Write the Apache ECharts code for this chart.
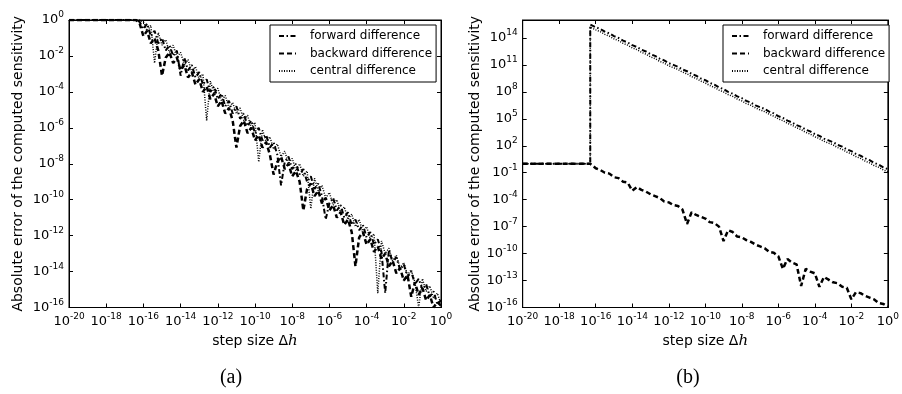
<!DOCTYPE html>
<html>
<head>
<meta charset="utf-8">
<script src="https://cdn.jsdelivr.net/npm/echarts@6/dist/echarts.min.js"></script>
<style>
  html, body { margin: 0; padding: 0; background: #fff; }
  #chart { width: 902px; height: 394px; }
</style>
</head>
<body>
<div id="chart"></div>
<script>
// all values are log10 exponents
const legendNames = ["forward difference", "backward difference", "central difference"];

// (a) step sizes and errors
const xA = [-20, -16.4, -16.2, -16.0, -15.8, -15.6, -15.4, -15.2, -15.0, -14.8, -14.6, -14.4, -14.2, -14.0,
  -13.8, -13.6, -13.4, -13.2, -13.0, -12.8, -12.6, -12.4, -12.2, -12.0, -11.8, -11.6, -11.4, -11.2, -11.0,
  -10.8, -10.6, -10.4, -10.2, -10.0, -9.8, -9.6, -9.4, -9.2, -9.0, -8.8, -8.6, -8.4, -8.2, -8.0,
  -7.8, -7.6, -7.4, -7.2, -7.0, -6.8, -6.6, -6.4, -6.2, -6.0, -5.8, -5.6, -5.4, -5.2, -5.0,
  -4.8, -4.6, -4.4, -4.2, -4.0, -3.8, -3.6, -3.4, -3.2, -3.0, -2.8, -2.6, -2.4, -2.2, -2.0,
  -1.8, -1.6, -1.4, -1.2, -1.0, -0.8, -0.6, -0.4, -0.2, 0.0];
const fwdA = [0, 0, -0.1, -0.5, -0.2, -0.9, -0.6, -1.3, -1.0, -1.7, -1.4, -2.0, -1.7, -3.1,
  -2.1, -2.8, -2.5, -3.2, -2.9, -3.6, -3.3, -4.0, -3.7, -4.4, -4.1, -4.8, -4.5, -5.2, -4.8,
  -5.5, -5.2, -5.9, -5.6, -6.3, -6.0, -6.7, -6.4, -7.1, -6.8, -7.5, -9.2, -7.9, -7.6, -8.3,
  -8.0, -8.6, -8.3, -9.0, -8.7, -9.4, -9.1, -9.8, -11.1, -10.2, -9.9, -10.6, -10.3, -11.0, -10.7,
  -11.4, -11.1, -11.7, -11.4, -12.1, -11.8, -12.5, -12.2, -12.9, -15.2, -12.8, -13.5, -13.2, -13.9, -13.6,
  -14.3, -14.0, -14.7, -14.4, -15.0, -14.7, -15.4, -15.1, -15.8, -15.6];
const bwdA = [0, 0, -0.2, -0.9, -0.6, -1.3, -1.0, -1.7, -3.1, -2.1, -1.8, -2.4, -2.1, -2.8,
  -2.5, -3.2, -2.9, -3.6, -3.3, -4.0, -3.7, -4.4, -4.1, -4.8, -4.5, -5.2, -4.9, -5.6, -7.1,
  -5.9, -5.6, -6.3, -6.0, -6.7, -6.4, -7.1, -6.8, -7.5, -8.6, -7.9, -7.6, -8.3, -8.0, -8.7,
  -8.4, -9.0, -10.6, -9.4, -9.1, -9.8, -9.5, -10.2, -9.9, -10.6, -10.3, -11.0, -10.7, -11.4, -11.1,
  -11.8, -13.7, -12.1, -11.8, -12.5, -12.2, -12.9, -12.6, -13.3, -13.0, -13.7, -13.4, -14.1, -13.8, -14.5,
  -14.2, -15.4, -14.6, -15.3, -14.9, -15.6, -15.3, -16.0, -15.7, -15.9];
const cenA = [0, 0, 0, -0.1, -0.6, -0.3, -2.4, -0.7, -1.4, -1.1, -1.8, -1.4, -2.1, -1.8,
  -2.5, -2.2, -2.9, -2.6, -3.3, -3.0, -5.6, -3.4, -4.1, -3.8, -4.5, -4.2, -4.9, -4.6, -5.2,
  -4.9, -5.6, -5.3, -6.0, -5.7, -7.9, -6.1, -6.8, -6.5, -7.2, -6.9, -7.6, -7.3, -8.0, -7.7,
  -8.4, -8.0, -8.7, -8.4, -10.5, -8.8, -9.5, -9.2, -9.9, -9.6, -10.3, -10.0, -10.7, -10.4, -11.1,
  -10.8, -11.5, -11.1, -11.8, -11.5, -12.2, -11.9, -15.2, -12.3, -13.0, -12.7, -13.4, -13.1, -13.8, -13.5,
  -14.2, -13.9, -14.6, -16.0, -14.4, -15.1, -14.8, -15.5, -15.2, -15.8];

// (b) step sizes and errors
const xB = [-20, -16.3, -16.3, -16.0, -15.75, -15.5, -15.25, -15.0, -14.75, -14.5, -14.25, -14.0,
  -13.75, -13.5, -13.25, -13.0, -12.75, -12.5, -12.25, -12.0, -11.75, -11.5, -11.25, -11.0,
  -10.75, -10.5, -10.25, -10.0, -9.75, -9.5, -9.25, -9.0, -8.75, -8.5, -8.25, -8.0,
  -7.75, -7.5, -7.25, -7.0, -6.75, -6.5, -6.25, -6.0, -5.75, -5.5, -5.25, -5.0,
  -4.75, -4.5, -4.25, -4.0, -3.75, -3.5, -3.25, -3.0, -2.75, -2.5, -2.25, -2.0,
  -1.75, -1.5, -1.25, -1.0, -0.75, -0.5, -0.25, 0.0];
const fwdB = [0, 0, 15.5, 15.2, 15.0, 14.7, 14.5, 14.2, 14.0, 13.7, 13.5, 13.2,
  13.0, 12.7, 12.5, 12.2, 12.0, 11.7, 11.5, 11.2, 11.0, 10.8, 10.5, 10.3,
  10.0, 9.8, 9.5, 9.3, 9.0, 8.8, 8.5, 8.3, 8.0, 7.8, 7.5, 7.3,
  7.0, 6.8, 6.5, 6.3, 6.1, 5.8, 5.6, 5.3, 5.1, 4.8, 4.6, 4.3,
  4.1, 3.8, 3.6, 3.3, 3.1, 2.8, 2.6, 2.4, 2.1, 1.9, 1.6, 1.4,
  1.1, 0.9, 0.6, 0.4, 0.1, -0.1, -0.4, -0.6];
const bwdB = [0, 0, 0, -0.5, -0.7, -1.0, -1.1, -1.5, -1.6, -2.0, -2.1, -3.0,
  -2.6, -2.9, -3.1, -3.4, -3.6, -3.8, -4.2, -4.3, -4.6, -4.7, -5.1, -6.7,
  -5.4, -5.7, -5.9, -6.1, -6.5, -6.6, -7.0, -8.6, -7.4, -7.6, -8.1, -8.2,
  -8.5, -8.7, -9.0, -9.2, -9.4, -9.8, -9.9, -10.3, -11.7, -10.6, -11.0, -11.2,
  -13.6, -11.7, -12.0, -12.2, -13.7, -12.6, -12.9, -13.2, -13.3, -13.7, -13.8, -15.1,
  -14.3, -14.4, -14.7, -14.9, -15.1, -15.5, -15.6, -15.9];
const cenB = [0, 0, 15.2, 14.9, 14.7, 14.4, 14.2, 13.9, 13.7, 13.4, 13.2, 12.9,
  12.7, 12.4, 12.2, 11.9, 11.7, 11.4, 11.2, 10.9, 10.7, 10.5, 10.2, 10.0,
  9.7, 9.5, 9.2, 9.0, 8.7, 8.5, 8.2, 8.0, 7.7, 7.5, 7.2, 7.0,
  6.7, 6.5, 6.2, 6.0, 5.8, 5.5, 5.3, 5.0, 4.8, 4.5, 4.3, 4.0,
  3.8, 3.5, 3.3, 3.0, 2.8, 2.5, 2.3, 2.1, 1.8, 1.6, 1.3, 1.1,
  0.8, 0.6, 0.3, 0.1, -0.2, -0.4, -0.7, -0.9];

const FONT = "DejaVu Sans";
const powLabel = (v) => `{b|10}{s|${v}}`;
const tickRich = {
  b: { fontFamily: FONT, fontSize: 13, color: "#000" },
  s: { fontFamily: FONT, fontSize: 9, color: "#000", padding: [0, 0, 10, 0] },
};

function mainX(gridIndex) {
  return {
    type: "value", gridIndex, min: -20, max: 0, interval: 2,
    name: "{n|step size Δ}{i|h}", nameLocation: "middle", nameGap: 21,
    nameTextStyle: { rich: {
      n: { fontFamily: FONT, fontSize: 14, color: "#000" },
      i: { fontFamily: "DejaVu Serif", fontStyle: "italic", fontSize: 15, color: "#000" },
    } },
    axisLine: { onZero: false, lineStyle: { color: "#000", width: 1 } },
    axisTick: { inside: true, length: 4, lineStyle: { color: "#000" } },
    axisLabel: { margin: 5, formatter: powLabel, rich: tickRich },
    splitLine: { show: false },
  };
}

function mainY(gridIndex, min, max, interval, gap) {
  return {
    type: "value", gridIndex, min, max, interval,
    name: "Absolute error of the computed sensitivity", nameLocation: "middle", nameGap: gap,
    nameTextStyle: { fontFamily: FONT, fontSize: 14, color: "#000" },
    axisLine: { onZero: false, lineStyle: { color: "#000", width: 1 } },
    axisTick: { inside: true, length: 4, lineStyle: { color: "#000" } },
    axisLabel: { margin: 5, formatter: (v) => (v === 16 ? "" : powLabel(v)), rich: tickRich },
    splitLine: { show: false },
  };
}

function mirror(gridIndex, position, min, max, interval) {
  return {
    type: "value", gridIndex, position, min, max, interval,
    axisLine: { show: true, onZero: false, lineStyle: { color: "#000", width: 1 } },
    axisTick: { inside: true, length: 4, lineStyle: { color: "#000" } },
    axisLabel: { show: false },
    splitLine: { show: false },
  };
}

const styles = [
  { type: [5, 2.5, 1.5, 2.5], width: 2, color: "#000" },
  { type: [5, 3], width: 2.5, color: "#000" },
  { type: [1, 1.5], width: 1.5, color: "#000" },
];

function makeSeries(xs, ys, k, axisIndex) {
  return {
    type: "line", name: legendNames[k], xAxisIndex: axisIndex, yAxisIndex: axisIndex,
    data: xs.map((x, i) => [x, ys[i]]),
    symbol: "none", itemStyle: { color: "#000" }, lineStyle: styles[k], clip: true,
  };
}

function makeLegend(left) {
  return {
    data: legendNames, orient: "vertical", left, top: 25,
    itemWidth: 17, itemHeight: 12, itemGap: 5.5,
    padding: [5, 4, 5, 8],
    borderColor: "#000", borderWidth: 1, backgroundColor: "#fff",
    itemStyle: { opacity: 0 },
    textStyle: { fontFamily: FONT, fontSize: 12, color: "#000", padding: [0, 0, 0, 9] },
    selectedMode: false,
  };
}

const chart = echarts.init(document.getElementById("chart"), null, { renderer: "canvas" });
chart.setOption({
  animation: false,
  backgroundColor: "#fff",
  grid: [
    { left: 69, right: 461, top: 20, bottom: 86.5, show: true, borderColor: "#000", borderWidth: 1 },
    { left: 522.7, right: 7, top: 20, bottom: 86.5, show: true, borderColor: "#000", borderWidth: 1 },
  ],
  xAxis: [
    mainX(0), mirror(0, "top", -20, 0, 2),
    mainX(1), mirror(1, "top", -20, 0, 2),
  ],
  yAxis: [
    mainY(0, -16, 0, 2, 44), mirror(0, "right", -16, 0, 2),
    mainY(1, -16, 16, 3, 40), mirror(1, "right", -16, 16, 3),
  ],
  legend: [makeLegend(270), makeLegend(723)],
  series: [
    makeSeries(xA, fwdA, 0, 0), makeSeries(xA, bwdA, 1, 0), makeSeries(xA, cenA, 2, 0),
    makeSeries(xB, fwdB, 0, 2), makeSeries(xB, bwdB, 1, 2), makeSeries(xB, cenB, 2, 2),
  ],
  graphic: [
    { type: "text", x: 231, y: 378, style: { text: "(a)", font: '20px "Liberation Serif"', align: "center", verticalAlign: "middle", fill: "#000" } },
    { type: "text", x: 688, y: 378, style: { text: "(b)", font: '20px "Liberation Serif"', align: "center", verticalAlign: "middle", fill: "#000" } },
  ],
});
</script>
</body>
</html>
